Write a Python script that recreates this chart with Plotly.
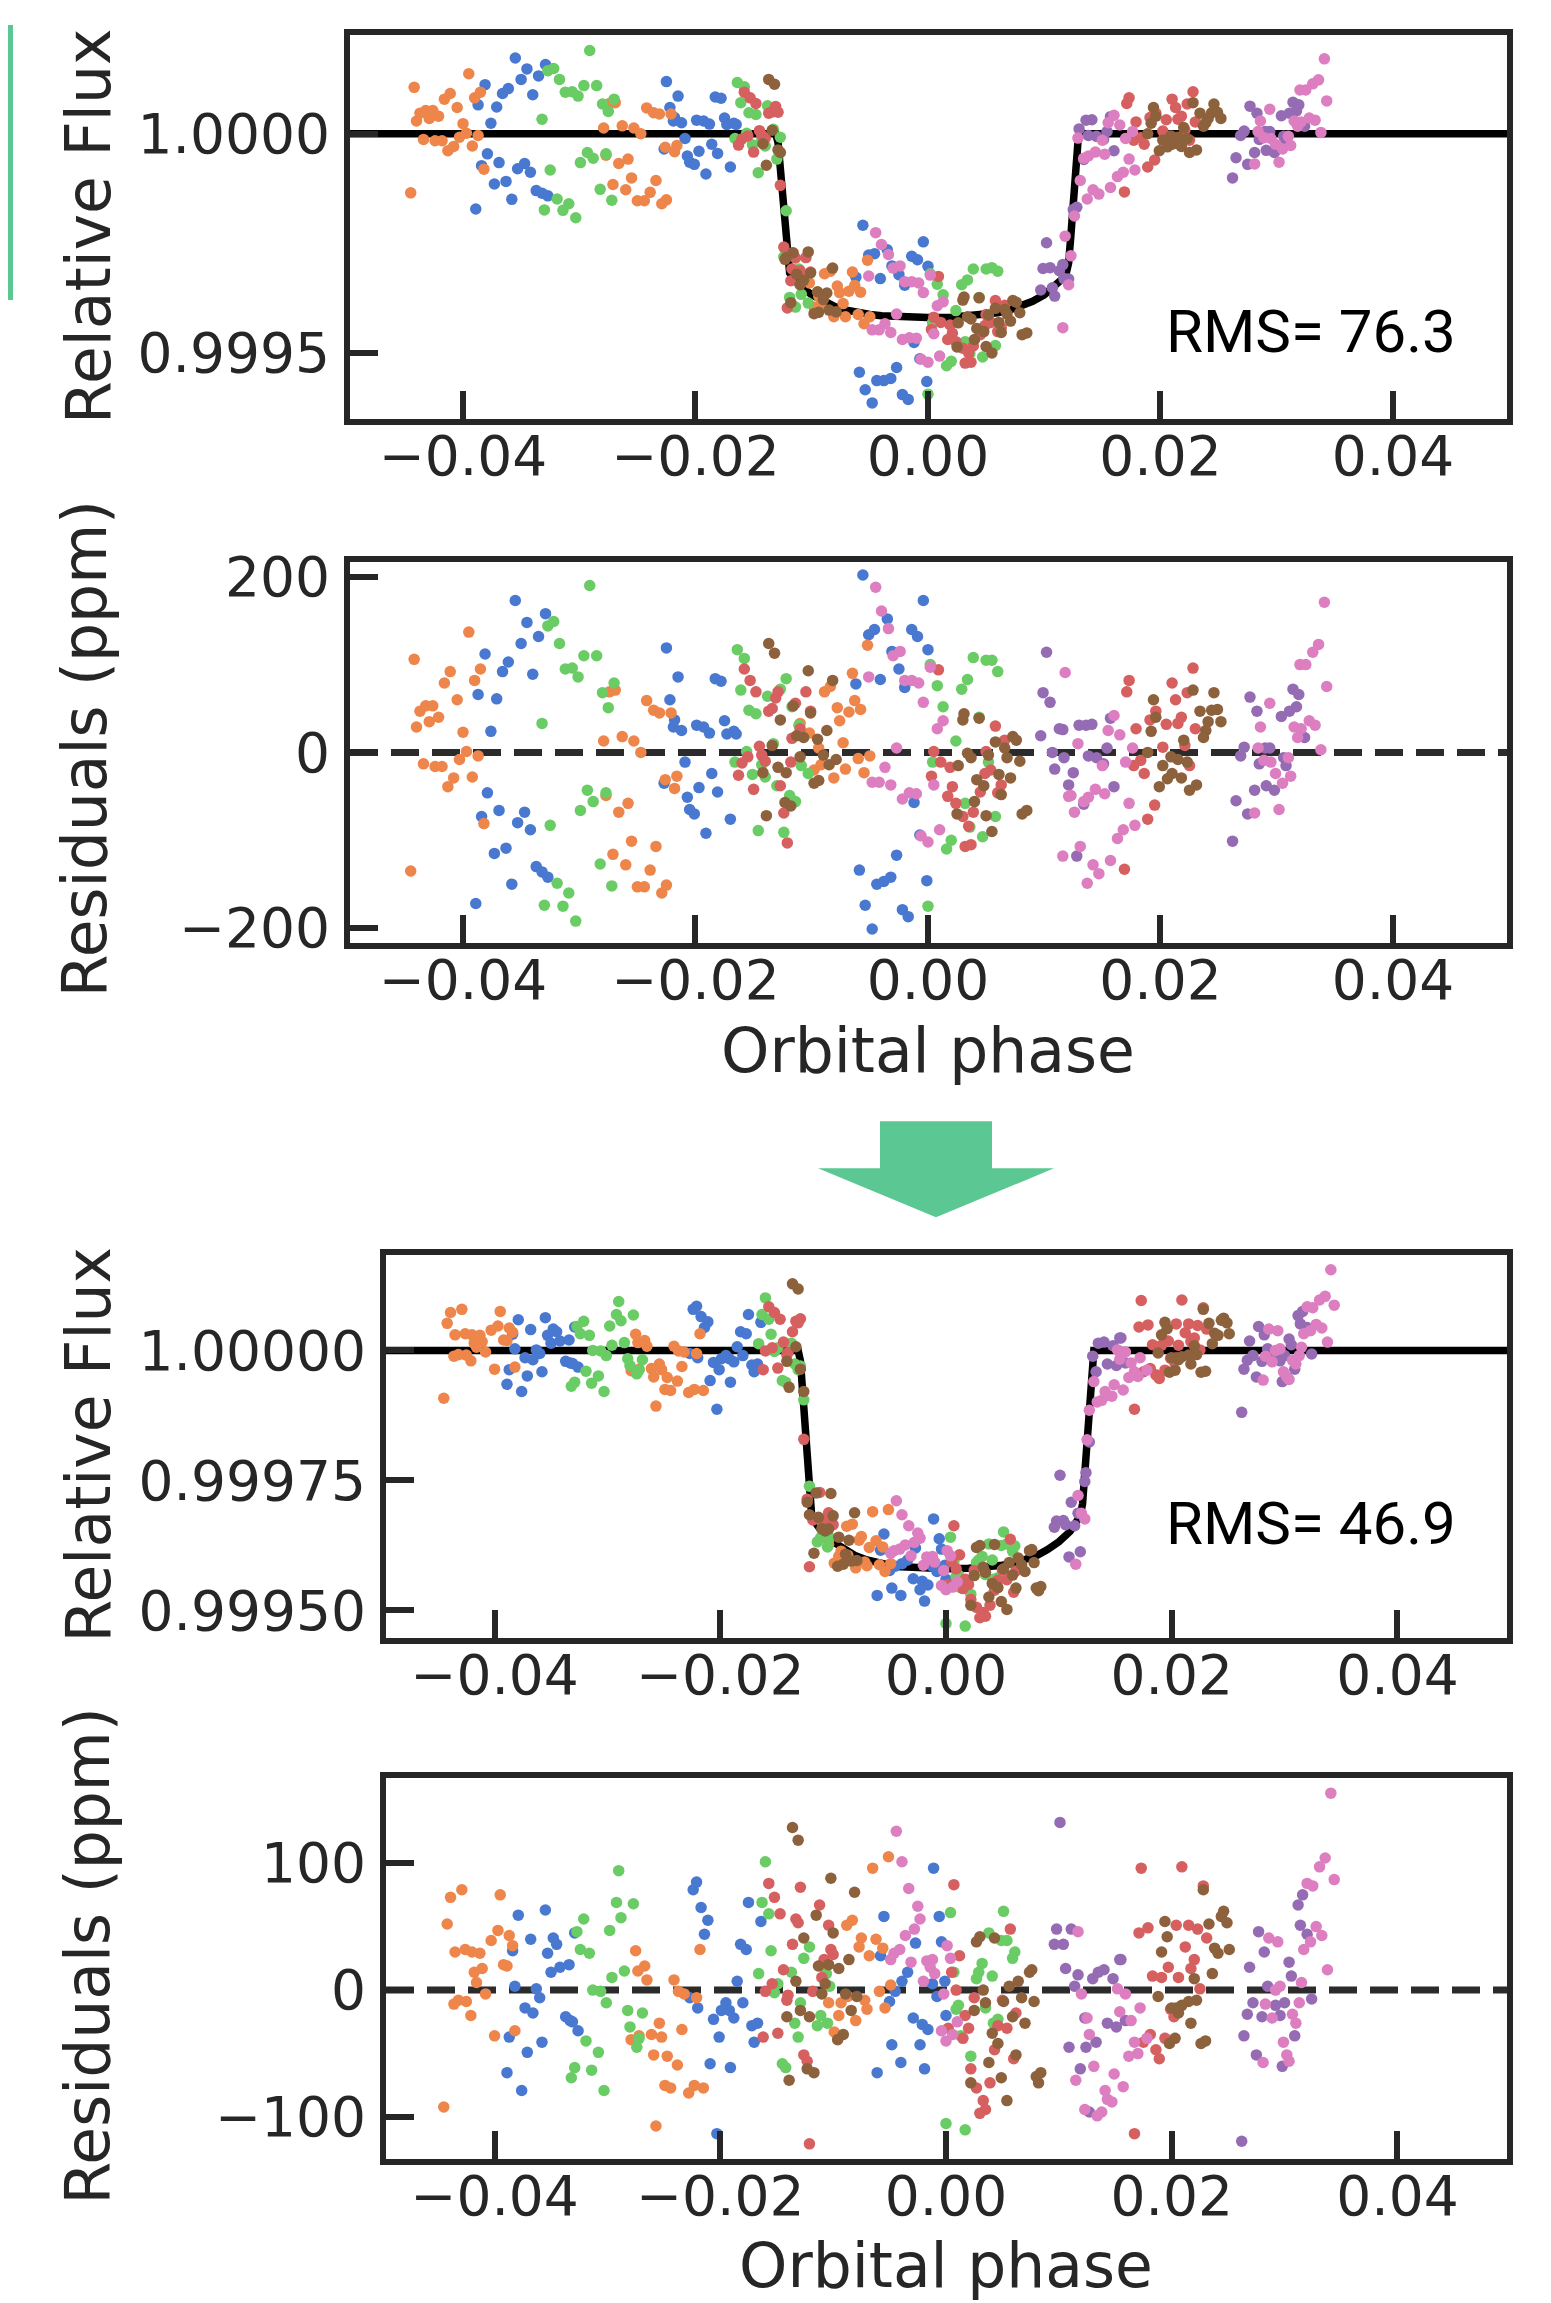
import plotly.graph_objects as go

# Measured placement of the figure in the photographed page:
#   picture_x = 8 + fig_x ;  picture_y = 25 + 0.985 * fig_y
W, H = 1535, 2315
OFF_X, OFF_Y, SCALE_Y = 8, 25, 0.985
INK = '#262626'
MINT = '#5BC894'
COLORS = {'blue': '#4878d0', 'orange': '#ee854a', 'green': '#6acc64', 'red': '#d65f5f',
          'purple': '#956cb4', 'brown': '#8c613c', 'pink': '#dc7ec0'}

# ---------------- axis ticks / labels ----------------
x_ticks = [-0.04, -0.02, 0.0, 0.02, 0.04]
x_ticktext = ['\u22120.04', '\u22120.02', '0.00', '0.02', '0.04']
flux_top_ticks = [0.9995, 1.0]
flux_top_text = ['0.9995', '1.0000']
resid_top_ticks = [-200, 0, 200]
resid_top_text = ['\u2212200', '0', '200']
flux_bot_ticks = [0.9995, 0.99975, 1.0]
flux_bot_text = ['0.99950', '0.99975', '1.00000']
resid_bot_ticks = [-100, 0, 100]
resid_bot_text = ['\u2212100', '0', '100']
rms_labels = ['RMS= 76.3', 'RMS= 46.9']

# ---------------- transit model (flux offset, ppm) ----------------
model_phase = [-0.05, -0.0131, -0.0129, -0.0127, -0.0125, -0.0123, -0.0121, -0.0119, -0.0115, -0.0110,
               -0.0100, -0.0090, -0.0080, -0.0070, -0.0060, -0.0050, -0.0040, -0.0020, 0.0, 0.0020,
               0.0040, 0.0050, 0.0060, 0.0070, 0.0080, 0.0090, 0.0100, 0.0110, 0.0115, 0.0119,
               0.0121, 0.0123, 0.0125, 0.0127, 0.0129, 0.0131, 0.05]
model_ppm = [0, 0, -20, -80, -150, -230, -295, -318, -333, -348,
             -368, -383, -395, -403, -409, -413, -416, -419, -420, -419,
             -416, -413, -409, -403, -395, -383, -368, -348, -333, -318,
             -295, -230, -150, -80, -20, 0, 0]

# ================= BEFORE (top pair) =================
blue_before_phase = [-0.0389, -0.0381, -0.0387, -0.0376, -0.0371, -0.0379, -0.0384, -0.0369, -0.0373, -0.0363, -0.0358, -0.0366, -0.0361, -0.0355, -0.0350, -0.0345, -0.0340, -0.0335, -0.0329, -0.0353, -0.0347, -0.0342, -0.0337, -0.0332, -0.0327,
                     -0.0225, -0.0215, -0.0222, -0.0218, -0.0212, -0.0219, -0.0199, -0.0193, -0.0188, -0.0183, -0.0178, -0.0175, -0.0173, -0.0167, -0.0165, -0.0209, -0.0227, -0.0207, -0.0197, -0.0186, -0.0181, -0.0205, -0.0201, -0.0191, -0.0170,
                     -0.0056, -0.0051, -0.0046, -0.0035, -0.0031, -0.0025, -0.0020, -0.0014, -0.0009, -0.0004, 0.0000, -0.0062, -0.0041, -0.0012, -0.0007, -0.0027, -0.0059, -0.0044, -0.0038, -0.0032, -0.0054, -0.0022, -0.0017, -0.0048, -0.0001]
blue_before_resid = [-172, 112, 66, 24, 61, -46, -73, -66, -115, -109, -150, 92, 103, 173, 124, 148, 89, 132, 158, -80, -68, -88, -130, -136, -142,
                     119, 86, 60, 37, 25, 29, 31, 29, 22, 84, 81, 36, 21, 24, 21, -11, -35, -51, -40, -24, -45, -65, -70, -92, -76,
                     202, 134, 140, 152, 115, 95, 74, 140, 132, 173, 117, 78, 83, -57, -94, -117, -134, -150, -147, -142, -174, -179, -187, -201, -146]
blue_before_flux = [-172, 112, 66, 24, 61, -46, -73, -66, -115, -109, -150, 92, 103, 173, 124, 148, 89, 132, 158, -80, -68, -88, -130, -136, -142,
                    119, 86, 60, 37, 25, 29, 31, 29, 22, 84, 81, 36, 21, 24, 21, -11, -35, -51, -40, -24, -45, -65, -70, -92, -76,
                    -209, -277, -274, -265, -302, -322, -346, -280, -288, -247, -303, -328, -331, -477, -514, -534, -545, -564, -564, -559, -585, -596, -607, -615, -566]

orange_before_phase = [-0.0442, -0.0445, -0.0440, -0.0437, -0.0432, -0.0426, -0.0429, -0.0421, -0.0434, -0.0424, -0.0418, -0.0413, -0.0408, -0.0416, -0.0411, -0.0405, -0.0400, -0.0397, -0.0403, -0.0395, -0.0390, -0.0385, -0.0387, -0.0392, -0.0382,
                       -0.0279, -0.0274, -0.0269, -0.0263, -0.0253, -0.0247, -0.0277, -0.0258, -0.0266, -0.0271, -0.0255, -0.0260, -0.0234, -0.0239, -0.0250, -0.0244, -0.0229, -0.0225, -0.0242, -0.0236, -0.0231, -0.0221, -0.0226, -0.0216, -0.0218,
                       -0.0102, -0.0098, -0.0089, -0.0084, -0.0078, -0.0076, -0.0068, -0.0065, -0.0063, -0.0058, -0.0073, -0.0071, -0.0081, -0.0060, -0.0055, -0.0050, -0.0052, -0.0110, -0.0094, -0.0092]
orange_before_resid = [106, -135, 29, 47, 53, 53, 35, 40, -13, -16, -16, -39, -29, 79, 92, 60, 23, 1, -8, 137, 82, 95, -4, -28, -81,
                       13, 69, 71, 18, 13, 0, -49, -58, -68, -116, -101, -128, -107, -134, -153, -153, -160, -151, 59, 48, 45, 45, -31, -27, -41,
                       22, -20, 69, 75, 51, 36, 46, 90, 59, 49, 11, -19, -29, -7, -23, -4, 122, 33, 5, -14]
orange_before_flux = [106, -135, 29, 47, 53, 53, 35, 40, -13, -16, -16, -39, -29, 79, 92, 60, 23, 1, -8, 137, 82, 95, -4, -28, -81,
                      13, 69, 71, 18, 13, 0, -49, -58, -68, -116, -101, -128, -107, -134, -153, -153, -160, -151, 59, 48, 45, 45, -31, -27, -41,
                      -341, -396, -320, -314, -348, -363, -360, -316, -347, -362, -388, -418, -418, -413, -434, -418, -289, -319, -371, -390]

green_before_phase = [-0.0291, -0.0327, -0.0322, -0.0317, -0.0296, -0.0285, -0.0312, -0.0306, -0.0301, -0.0280, -0.0270, -0.0275, -0.0332, -0.0293, -0.0288, -0.0277, -0.0299, -0.0325, -0.0282, -0.0272, -0.0319, -0.0309, -0.0330, -0.0314, -0.0303,
                      -0.0164, -0.0158, -0.0161, -0.0154, -0.0148, -0.0138, -0.0122, -0.0127, -0.0117, -0.0133, -0.0156, -0.0166, -0.0151, -0.0140, -0.0143, -0.0130, -0.0119, -0.0114, -0.0109, -0.0103, -0.0146, -0.0124, -0.0111,
                      0.0002, 0.0000, 0.0004, 0.0039, 0.0050, 0.0055, 0.0060, 0.0034, 0.0029, 0.0008, 0.0013, 0.0024, 0.0044, 0.0052, 0.0032, 0.0058, 0.0020, 0.0016, 0.0047, 0.0036]
green_before_resid = [190, 144, 149, 124, 110, 110, 95, 96, 86, 68, 79, 51, 33, -43, -56, -46, -66, -83, -127, -152, -149, -160, -174, -175, -192,
                      117, 107, 71, 48, 44, 64, 84, 72, 52, 10, 1, -11, -25, -28, -14, -38, -49, -56, -15, -24, -89, -91, 31,
                      100, -175, -11, 108, 105, 105, 92, 83, 72, 76, 52, 13, 40, -11, -58, -73, -100, -110, -96, -85]
green_before_flux = [190, 144, 149, 124, 110, 110, 95, 96, 86, 68, 79, 51, 33, -43, -56, -46, -66, -83, -127, -152, -149, -160, -174, -175, -192,
                     117, 107, 71, 48, 44, 64, -176, -8, -273, 10, 1, -11, -25, -28, -14, -58, -374, -396, -367, -387, -89, -281, -309,
                     -320, -595, -431, -309, -309, -306, -314, -334, -345, -344, -368, -404, -374, -422, -475, -484, -520, -530, -510, -502]

red_before_phase = [-0.0158, -0.0153, -0.0148, -0.0137, -0.0134, -0.0131, -0.0129, -0.0105, -0.0101, -0.0145, -0.0155, -0.0160, -0.0143, -0.0140, -0.0163, -0.0150, -0.0127, -0.0118, -0.0124, -0.0121, -0.0114, -0.0117, -0.0110,
                    0.0009, 0.0058, 0.0066, 0.0005, 0.0011, 0.0019, 0.0050, 0.0054, 0.0003, 0.0021, 0.0017, 0.0024, 0.0045, 0.0063, 0.0060, 0.0039, 0.0030, 0.0035, 0.0032, 0.0037, 0.0049,
                    0.0228, 0.0173, 0.0171, 0.0210, 0.0213, 0.0223, 0.0196, 0.0191, 0.0179, 0.0205, 0.0218, 0.0215, 0.0230, 0.0202, 0.0183, 0.0177, 0.0186, 0.0225, 0.0195, 0.0189, 0.0169, 0.0221]
red_before_resid = [95, 82, 69, 47, 50, 62, 69, 69, 47, 7, -5, -12, -3, -10, -26, -42, -38, -11, -69, -103, 56, 16, 27,
                    94, 30, 14, 1, -11, -17, 1, -20, -27, -39, -50, -58, -45, -37, -46, -68, -73, -84, -107, -105, -24,
                    96, 82, 69, 79, 60, 68, 47, 37, 27, 32, 40, 33, 27, 6, -9, -15, -24, -15, -60, -76, -133, 8]
red_before_flux = [95, 82, 69, 47, 50, 62, 49, -283, -316, 7, -5, -12, -3, -10, -26, -42, -118, -336, -259, -398, -284, -309, -313,
                   -326, -381, -392, -419, -431, -437, -413, -431, -447, -456, -470, -475, -459, -443, -452, -485, -490, -501, -524, -522, -438,
                   96, 82, 69, 79, 60, 68, 47, 37, 27, 32, 40, 33, 27, 6, -9, -15, -24, -15, -60, -76, -133, 8]

purple_before_phase = [0.0102, 0.0099, 0.0105, 0.0097, 0.0113, 0.0116, 0.0107, 0.0117, 0.0109, 0.0125, 0.0121, 0.0134, 0.0128, 0.0130, 0.0136, 0.0141, 0.0157, 0.0154, 0.0138, 0.0145, 0.0151, 0.0160,
                       0.0277, 0.0283, 0.0304, 0.0311, 0.0317, 0.0314, 0.0319, 0.0324, 0.0272, 0.0269, 0.0290, 0.0294, 0.0285, 0.0308, 0.0306, 0.0291, 0.0298, 0.0281, 0.0265, 0.0275, 0.0262]
purple_before_resid = [114, 68, 57, 19, 27, 26, 0, -6, -19, -23, -37, -59, -118, 31, 31, 32, 39, 5, -4, -6, -13, -39,
                       63, 47, 41, 47, 52, 72, 66, 17, 6, -4, 5, 5, -13, -15, -6, -38, -43, -43, -55, -70, -101]
purple_before_flux = [-249, -308, -306, -357, -313, -299, -352, -331, -371, -173, -332, -59, -168, 11, 31, 32, 39, 5, -4, -6, -13, -39,
                      63, 47, 41, 47, 52, 72, 66, 17, 6, -4, 5, 5, -13, -15, -6, -38, -43, -43, -55, -70, -101]

brown_before_phase = [-0.0137, -0.0132, -0.0103, -0.0082, -0.0127, -0.0116, -0.0101, -0.0087, -0.0095, -0.0107, -0.0134, -0.0113, -0.0110, -0.0090, -0.0085, -0.0079, -0.0129, -0.0122, -0.0142, -0.0094, -0.0098, -0.0123, -0.0118, -0.0139,
                      0.0031, 0.0030, 0.0044, 0.0058, 0.0073, 0.0076, 0.0034, 0.0037, 0.0052, 0.0066, 0.0068, 0.0079, 0.0026, 0.0042, 0.0048, 0.0061, 0.0071, 0.0063, 0.0040, 0.0025, 0.0050, 0.0055, 0.0081, 0.0085,
                      0.0194, 0.0196, 0.0192, 0.0228, 0.0246, 0.0234, 0.0244, 0.0249, 0.0252, 0.0241, 0.0239, 0.0237, 0.0220, 0.0189, 0.0209, 0.0215, 0.0223, 0.0202, 0.0210, 0.0206, 0.0218, 0.0199, 0.0231, 0.0225]
brown_before_resid = [124, 113, 93, 82, 37, 53, 45, 25, 15, 17, 8, 19, -5, -3, -14, -8, -17, -23, -23, -32, -35, -57, -61, -72,
                      44, 37, 39, 12, 18, 14, -1, -6, -3, 5, -6, -10, -15, -31, -38, -25, -29, -48, -56, -70, -72, -90, -70, -66,
                      60, 40, 24, 71, 68, 47, 48, 49, 35, 35, 25, 17, 14, 0, -5, -8, -11, -15, -24, -30, -29, -39, -37, -43]
brown_before_flux = [124, 113, -270, -307, -43, -272, -318, -364, -361, -335, 8, -321, -345, -379, -403, -407, -37, -283, -23, -408, -411, -287, -386, -72,
                     -373, -380, -375, -399, -381, -385, -418, -423, -414, -401, -412, -409, -432, -445, -452, -431, -428, -454, -470, -487, -486, -501, -459, -455,
                     60, 40, 24, 71, 68, 47, 48, 49, 35, 35, 25, 17, 14, 0, -5, -8, -11, -15, -24, -30, -29, -39, -37, -43]

pink_before_phase = [-0.0045, -0.0040, -0.0034, -0.0030, -0.0024, -0.0051, -0.0020, -0.0014, -0.0008, -0.0004, 0.0002, -0.0027, -0.0037, -0.0048, -0.0042, -0.0032, -0.0022, -0.0016, -0.0010, -0.0006, 0.0000, 0.0013, 0.0008, 0.0005, 0.0010,
                     0.0118, 0.0129, 0.0160, 0.0155, 0.0165, 0.0176, 0.0170, 0.0150, 0.0144, 0.0138, 0.0134, 0.0152, 0.0123, 0.0121, 0.0126, 0.0173, 0.0168, 0.0163, 0.0178, 0.0131, 0.0116, 0.0157, 0.0142, 0.0147, 0.0137,
                     0.0341, 0.0336, 0.0331, 0.0320, 0.0325, 0.0343, 0.0294, 0.0286, 0.0315, 0.0321, 0.0328, 0.0333, 0.0318, 0.0284, 0.0338, 0.0310, 0.0289, 0.0295, 0.0299, 0.0305, 0.0312, 0.0281, 0.0302]
pink_before_resid = [188, 161, 141, 110, 115, 86, 82, 82, 79, 57, 97, 5, -17, -34, -34, -37, -53, -46, -47, -95, -102, 36, 27, -37, -88,
                     91, 10, 42, 25, 20, 5, -11, -15, -42, -51, -56, -47, -49, -50, -68, -58, -88, -98, -83, -107, -118, -123, -128, -138, -149,
                     171, 123, 114, 100, 100, 75, 56, 29, 29, 27, 36, 31, 17, 5, 3, -6, -9, -11, -24, -35, -27, -69, -65]
pink_before_flux = [-226, -253, -276, -307, -302, -325, -338, -338, -341, -363, -323, -412, -434, -448, -448, -454, -470, -466, -467, -515, -522, -384, -393, -457, -508,
                    -234, -10, 42, 25, 20, 5, -11, -15, -42, -51, -56, -47, -279, -345, -188, -58, -88, -98, -83, -107, -443, -123, -128, -138, -149,
                    171, 123, 114, 100, 100, 75, 56, 29, 29, 27, 36, 31, 17, 5, 3, -6, -9, -11, -24, -35, -27, -69, -65]

# ================= AFTER (bottom pair) =================
blue_after_phase = [-0.0379, -0.0384, -0.0382, -0.0368, -0.0355, -0.0348, -0.0345, -0.0353, -0.0350, -0.0342, -0.0334, -0.0329, -0.0363, -0.0360, -0.0373, -0.0366, -0.0387, -0.0371, -0.0358, -0.0389, -0.0376, -0.0337, -0.0333, -0.0331, -0.0326,
                    -0.0221, -0.0224, -0.0217, -0.0211, -0.0214, -0.0227, -0.0220, -0.0206, -0.0199, -0.0195, -0.0192, -0.0188, -0.0180, -0.0185, -0.0201, -0.0209, -0.0191, -0.0203, -0.0182, -0.0177, -0.0175, -0.0164, -0.0172, -0.0167, -0.0170,
                    -0.0011, -0.0006, -0.0055, -0.0027, -0.0004, -0.0058, -0.0034, -0.0039, -0.0045, -0.0012, -0.0001, -0.0008, -0.0050, -0.0029, -0.0021, -0.0016, 0.0000, -0.0048, -0.0023, -0.0040, -0.0061, -0.0019]
blue_after_resid = [59, 31, 3, 40, 63, 41, 36, 29, 14, 18, 20, 45, 1, -6, -14, -18, -37, -49, -41, -65, -79, -21, -24, -25, -32,
                    85, 79, 65, 55, 44, -6, -14, -23, -16, -10, -16, -22, -10, 7, -37, -58, -61, -113, 36, 32, 69, 54, -28, -26, -41,
                    96, 58, 58, 37, 38, 27, 14, 7, -1, 5, 7, -5, -9, -22, -27, -31, -20, -43, -43, -57, -65, -62]
blue_after_flux = [59, 31, 3, 40, 63, 41, 36, 29, 14, 18, 20, 45, 1, -6, -14, -18, -37, -49, -41, -65, -79, -21, -24, -25, -32,
                   85, 79, 65, 55, 44, -6, -14, -23, -16, -10, -16, -22, -10, 7, -37, -58, -61, -113, 36, 32, 69, 54, -28, -26, -41,
                   -324, -362, -353, -380, -382, -384, -403, -410, -415, -415, -413, -425, -423, -439, -444, -451, -440, -457, -460, -471, -471, -482]

orange_after_phase = [-0.0439, -0.0429, -0.0442, -0.0395, -0.0397, -0.0403, -0.0387, -0.0384, -0.0435, -0.0426, -0.0420, -0.0413, -0.0418, -0.0411, -0.0416, -0.0392, -0.0389, -0.0408, -0.0436, -0.0432, -0.0425, -0.0421, -0.0400, -0.0382, -0.0445,
                      -0.0275, -0.0273, -0.0267, -0.0265, -0.0241, -0.0237, -0.0232, -0.0221, -0.0218, -0.0254, -0.0261, -0.0252, -0.0234, -0.0279, -0.0272, -0.0259, -0.0247, -0.0238, -0.0249, -0.0244, -0.0228, -0.0223, -0.0215, -0.0257,
                      -0.0065, -0.0051, -0.0083, -0.0088, -0.0075, -0.0077, -0.0068, -0.0062, -0.0056, -0.0059, -0.0049, -0.0104, -0.0095, -0.0093, -0.0087, -0.0072, -0.0070, -0.0080, -0.0054, -0.0099, -0.0110, -0.0107]
orange_after_resid = [73, 79, 52, 75, 47, 39, 43, 35, 30, 32, 30, 29, 14, 17, 6, 20, 19, -3, -11, -8, -9, -20, -36, -32, -92,
                      31, 15, 19, 8, 8, -1, -3, -6, 32, -26, -35, -37, -31, -39, -36, -51, -52, -59, -75, -77, -81, -75, -77, -107,
                      96, 105, 55, 51, 41, 34, 27, 40, 33, -1, 4, -10, -20, -10, -5, -8, -15, -24, -14, -33, 20, 16]
orange_after_flux = [73, 79, 52, 75, 47, 39, 43, 35, 30, 32, 30, 29, 14, 17, 6, 20, 19, -3, -11, -8, -9, -20, -36, -32, -92,
                     31, 15, 19, 8, 8, -1, -3, -6, 32, -26, -35, -37, -31, -39, -36, -51, -52, -59, -75, -77, -81, -75, -77, -107,
                     -310, -306, -334, -338, -358, -365, -379, -366, -378, -412, -410, -373, -396, -386, -394, -407, -414, -418, -425, -409, -326, -336]

green_after_phase = [-0.0290, -0.0292, -0.0277, -0.0288, -0.0321, -0.0327, -0.0298, -0.0324, -0.0316, -0.0285, -0.0296, -0.0313, -0.0306, -0.0301, -0.0282, -0.0269, -0.0280, -0.0319, -0.0308, -0.0272, -0.0274, -0.0329, -0.0314, -0.0332, -0.0303,
                     -0.0160, -0.0163, -0.0157, -0.0155, -0.0166, -0.0126, -0.0121, -0.0137, -0.0149, -0.0152, -0.0129, -0.0134, -0.0131, -0.0111, -0.0114, -0.0105, -0.0145, -0.0142, -0.0103, -0.0106,
                     0.0004, 0.0051, 0.0038, 0.0049, 0.0054, 0.0061, 0.0059, 0.0032, 0.0029, 0.0041, 0.0027, 0.0007, 0.0011, 0.0009, 0.0035, 0.0046, 0.0042, 0.0013, 0.0022, 0.0000, 0.0017]
green_after_resid = [94, 69, 68, 57, 56, 46, 47, 32, 29, 15, 10, 0, -1, -10, -16, -18, -29, -40, -49, -38, -45, -61, -63, -69, -79,
                     101, 69, 60, 31, 13, 25, 34, 14, 5, -2, -10, -26, -37, -20, -28, -26, -58, -61, 3, 13,
                     61, 62, 45, 39, 39, 30, 25, 21, 14, 11, 9, 14, -12, -15, -14, -23, -26, -36, -52, -105, -110]
green_after_flux = [94, 69, 68, 57, 56, 46, 47, 32, 29, 15, 10, 0, -1, -10, -16, -18, -29, -40, -49, -38, -45, -61, -63, -69, -79,
                    101, 69, 60, 31, 13, -95, -261, 14, 5, -2, -30, -26, -37, -360, -368, -378, -58, -61, -360, -339,
                    -359, -349, -372, -375, -372, -376, -386, -396, -403, -403, -408, -406, -432, -435, -431, -437, -440, -456, -469, -525, -530]

red_after_phase = [-0.0157, -0.0152, -0.0147, -0.0129, -0.0133, -0.0131, -0.0112, -0.0104, -0.0136, -0.0102, -0.0100, -0.0108, -0.0144, -0.0154, -0.0160, -0.0140, -0.0141, -0.0118, -0.0110, -0.0149, -0.0162, -0.0126, -0.0123, -0.0121,
                   0.0007, 0.0057, 0.0012, 0.0005, 0.0009, 0.0025, 0.0050, 0.0062, 0.0017, 0.0020, 0.0046, 0.0054, 0.0015, 0.0043, 0.0060, 0.0022, 0.0027, 0.0039, 0.0033, 0.0035, 0.0030, 0.0002,
                   0.0173, 0.0209, 0.0228, 0.0171, 0.0179, 0.0204, 0.0215, 0.0223, 0.0231, 0.0212, 0.0220, 0.0217, 0.0197, 0.0183, 0.0191, 0.0206, 0.0225, 0.0199, 0.0202, 0.0194, 0.0181, 0.0175, 0.0186, 0.0189, 0.0167]
red_after_resid = [84, 73, 60, 81, 56, 53, 67, 51, 36, 32, 28, 24, 16, 5, -1, -4, -8, -1, 10, -34, -37, -51, -56, -121,
                   83, 48, 27, 14, 0, -6, -8, -18, -20, -30, -28, -30, -38, -47, -54, -62, -77, -73, -87, -94, -97, -30,
                   96, 97, 82, 45, 49, 51, 51, 48, 41, 34, 24, 17, 18, 11, 10, 10, 1, -15, -21, -38, -35, -41, -47, -54, -113]
red_after_flux = [84, 73, 60, 61, 56, 53, -273, -312, 36, -331, -335, -328, 16, 5, -1, -4, -8, -326, -330, -34, -37, -171, -286, -416,
                  -337, -363, -393, -406, -420, -423, -422, -424, -440, -450, -442, -441, -458, -461, -465, -479, -494, -490, -504, -511, -514, -450,
                  96, 97, 82, 45, 49, 51, 51, 48, 41, 34, 24, 17, 18, 11, 10, 10, 1, -15, -21, -38, -35, -41, -47, -54, -113]

purple_after_phase = [0.0101, 0.0098, 0.0111, 0.0096, 0.0104, 0.0106, 0.0117, 0.0114, 0.0130, 0.0135, 0.0140, 0.0148, 0.0154, 0.0155, 0.0123, 0.0143, 0.0151, 0.0159, 0.0109, 0.0124, 0.0133, 0.0119, 0.0127,
                      0.0277, 0.0282, 0.0269, 0.0304, 0.0306, 0.0312, 0.0316, 0.0314, 0.0320, 0.0324, 0.0285, 0.0272, 0.0267, 0.0280, 0.0292, 0.0300, 0.0296, 0.0264, 0.0275, 0.0298, 0.0309, 0.0262]
purple_after_resid = [132, 48, 48, 36, 36, 17, 12, 3, 9, 14, 16, 9, 24, 24, -22, -26, -29, -24, -45, -45, -41, -62, -96,
                      46, 30, 18, 22, 11, 67, 75, 51, 44, -7, 3, -10, -19, -21, -12, -10, -20, -36, -51, -60, -36, -119]
purple_after_flux = [-240, -328, -292, -340, -327, -335, -313, -337, -11, 14, 16, 9, 24, 24, -252, -26, -29, -24, -397, -235, -41, -387, -176,
                     46, 30, 18, 22, 11, 67, 75, 51, 44, -7, 3, -10, -19, -21, -12, -10, -20, -36, -51, -60, -36, -119]

brown_after_phase = [-0.0136, -0.0131, -0.0102, -0.0081, -0.0115, -0.0100, -0.0126, -0.0086, -0.0095, -0.0113, -0.0104, -0.0133, -0.0107, -0.0089, -0.0079, -0.0110, -0.0084, -0.0129, -0.0121, -0.0141, -0.0091, -0.0096, -0.0123, -0.0117, -0.0139,
                     0.0027, 0.0030, 0.0043, 0.0056, 0.0064, 0.0074, 0.0076, 0.0033, 0.0035, 0.0051, 0.0067, 0.0078, 0.0025, 0.0059, 0.0070, 0.0041, 0.0046, 0.0062, 0.0038, 0.0049, 0.0022, 0.0054, 0.0080, 0.0084, 0.0082,
                     0.0228, 0.0194, 0.0196, 0.0191, 0.0233, 0.0244, 0.0246, 0.0249, 0.0251, 0.0238, 0.0241, 0.0236, 0.0220, 0.0188, 0.0222, 0.0215, 0.0209, 0.0204, 0.0200, 0.0206, 0.0217, 0.0203, 0.0198, 0.0226, 0.0230]
brown_after_resid = [128, 118, 88, 77, 59, 45, 41, 24, 17, 19, 20, 7, 5, -3, -5, -3, -16, -16, -21, -21, -35, -39, -62, -65, -71,
                     38, 42, 41, 3, 7, 14, 16, 0, -10, -9, -6, -9, -16, -21, -26, -34, -42, -51, -57, -69, -73, -87, -68, -65, -73,
                     79, 54, 42, 30, 52, 58, 62, 53, 32, 33, 29, 13, 9, -5, -8, -9, -12, -14, -14, -18, -26, -38, -42, -42, -40]
brown_after_flux = [128, 118, -275, -312, -274, -318, -79, -365, -359, -321, -343, 7, -347, -392, -404, -343, -405, -36, -316, -21, -411, -415, -292, -390, -71,
                    -379, -375, -373, -408, -399, -385, -383, -417, -427, -420, -412, -408, -433, -432, -425, -448, -456, -457, -474, -483, -490, -498, -457, -454, -462,
                    79, 54, 42, 30, 52, 58, 62, 53, 32, 33, 29, 13, 9, -5, -8, -9, -12, -14, -14, -18, -26, -38, -42, -42, -40]

pink_after_phase = [-0.0044, -0.0039, -0.0033, -0.0025, -0.0023, -0.0028, -0.0036, -0.0041, -0.0046, -0.0049, -0.0031, -0.0017, -0.0012, -0.0014, -0.0010, -0.0020, -0.0002, -0.0004, 0.0000, 0.0001, 0.0004, 0.0010, 0.0006,
                    0.0117, 0.0120, 0.0159, 0.0152, 0.0172, 0.0154, 0.0164, 0.0125, 0.0127, 0.0167, 0.0178, 0.0170, 0.0162, 0.0131, 0.0115, 0.0149, 0.0157, 0.0141, 0.0143, 0.0147, 0.0123, 0.0138, 0.0134,
                    0.0341, 0.0336, 0.0331, 0.0344, 0.0320, 0.0325, 0.0328, 0.0333, 0.0323, 0.0317, 0.0286, 0.0294, 0.0338, 0.0315, 0.0296, 0.0292, 0.0283, 0.0313, 0.0289, 0.0307, 0.0310, 0.0299, 0.0302, 0.0304, 0.0281]
pink_after_resid = [125, 101, 80, 66, 56, 48, 43, 32, 29, 24, 22, 23, 24, 18, 13, 7, -3, -32, -40, 35, 25, -25, -35,
                    46, -3, -3, 1, -14, -17, -24, -22, -35, -41, -38, -50, -52, -60, -71, -66, -76, -79, -86, -88, -94, -96, -99,
                    155, 104, 97, 87, 84, 82, 50, 43, 38, 32, 41, 38, 16, 6, 3, 0, -11, -10, -22, -19, -26, -41, -51, -56, -57]
pink_after_flux = [-289, -316, -337, -351, -361, -369, -374, -382, -385, -390, -395, -397, -396, -402, -407, -413, -423, -452, -460, -385, -395, -445, -455,
                   -279, -313, -3, 1, -14, -17, -24, -172, -115, -41, -38, -50, -52, -60, -411, -66, -76, -79, -86, -88, -324, -96, -99,
                   155, 104, 97, 87, 84, 82, 50, 43, 38, 32, 41, 38, 16, 6, 3, 0, -11, -10, -22, -19, -26, -41, -51, -56, -57]

before = {
    'blue': (blue_before_phase, blue_before_flux, blue_before_resid),
    'orange': (orange_before_phase, orange_before_flux, orange_before_resid),
    'green': (green_before_phase, green_before_flux, green_before_resid),
    'red': (red_before_phase, red_before_flux, red_before_resid),
    'purple': (purple_before_phase, purple_before_flux, purple_before_resid),
    'brown': (brown_before_phase, brown_before_flux, brown_before_resid),
    'pink': (pink_before_phase, pink_before_flux, pink_before_resid),
}
after = {
    'blue': (blue_after_phase, blue_after_flux, blue_after_resid),
    'orange': (orange_after_phase, orange_after_flux, orange_after_resid),
    'green': (green_after_phase, green_after_flux, green_after_resid),
    'red': (red_after_phase, red_after_flux, red_after_resid),
    'purple': (purple_after_phase, purple_after_flux, purple_after_resid),
    'brown': (brown_after_phase, brown_after_flux, brown_after_resid),
    'pink': (pink_after_phase, pink_after_flux, pink_after_resid),
}
for grp in (before, after):
    for k, (p, f, r) in grp.items():
        assert len(p) == len(f) == len(r), (k, len(p), len(f), len(r))


def to_flux(ppm):
    return [1.0 + v * 1e-6 for v in ppm]


def PX(x):  # target picture pixel -> paper x
    return (x - OFF_X) / W


def PY(y):  # target picture pixel -> paper y
    return 1 - ((y - OFF_Y) / SCALE_Y) / H


fig = go.Figure()

# model curves (drawn under the points)
for xa, ya in (('x', 'y'), ('x3', 'y3')):
    fig.add_trace(go.Scatter(x=model_phase, y=to_flux(model_ppm), mode='lines', xaxis=xa, yaxis=ya,
                             line=dict(color='black', width=7.5), hoverinfo='skip', showlegend=False))

MS = 11.5
for grp, (xf, yf, xr, yr) in ((before, ('x', 'y', 'x2', 'y2')), (after, ('x3', 'y3', 'x4', 'y4'))):
    for name, (p, f, r) in grp.items():
        fig.add_trace(go.Scatter(x=p, y=to_flux(f), mode='markers', xaxis=xf, yaxis=yf,
                                 marker=dict(color=COLORS[name], size=MS, line=dict(width=0)),
                                 showlegend=False, cliponaxis=True))
        fig.add_trace(go.Scatter(x=p, y=r, mode='markers', xaxis=xr, yaxis=yr,
                                 marker=dict(color=COLORS[name], size=MS, line=dict(width=0)),
                                 showlegend=False, cliponaxis=True))

common = dict(showline=True, linewidth=6, linecolor=INK, mirror=True, ticks='inside', ticklen=28,
              tickwidth=6, tickcolor=INK, showgrid=False, zeroline=False,
              tickfont=dict(family='DejaVu Sans', size=55, color=INK))
xcommon = dict(tickvals=x_ticks, ticktext=x_ticktext, ticklabelstandoff=-16, **common)
ycommon = dict(ticklabelstandoff=3, **common)

top_x_dom = [PX(350), PX(1507)]
bot_x_dom = [PX(386), PX(1507)]
top_x_rng = [-0.04972, 0.04981]
bot_x_rng = [-0.04962, 0.04971]

fig.update_layout(
    width=W, height=H, margin=dict(l=0, r=0, t=0, b=0),
    paper_bgcolor='white', plot_bgcolor='white', showlegend=False,
    xaxis=dict(domain=top_x_dom, range=top_x_rng, anchor='y', **xcommon),
    yaxis=dict(domain=[PY(419), PY(35)], range=[0.999348, 1.0002255], anchor='x',
               tickvals=flux_top_ticks, ticktext=flux_top_text, **ycommon),
    xaxis2=dict(domain=top_x_dom, range=top_x_rng, anchor='y2', **xcommon),
    yaxis2=dict(domain=[PY(943), PY(562)], range=[-217.3, 216.6], anchor='x2',
                tickvals=resid_top_ticks, ticktext=resid_top_text, **ycommon),
    xaxis3=dict(domain=bot_x_dom, range=bot_x_rng, anchor='y3', **xcommon),
    yaxis3=dict(domain=[PY(1637), PY(1255)], range=[0.999448, 1.0001827], anchor='x3',
                tickvals=flux_bot_ticks, ticktext=flux_bot_text, **ycommon),
    xaxis4=dict(domain=bot_x_dom, range=bot_x_rng, anchor='y4', **xcommon),
    yaxis4=dict(domain=[PY(2158), PY(1777)], range=[-132.7, 167.3], anchor='x4',
                tickvals=resid_bot_ticks, ticktext=resid_bot_text, **ycommon),
)

shapes = []
for xr, yr in (('x2', 'y2'), ('x4', 'y4')):
    shapes.append(dict(type='line', xref=xr + ' domain', yref=yr, x0=0, x1=1, y0=0, y1=0,
                       line=dict(color='#2b2b2b', width=7, dash='28px,13px'), layer='below'))
# mint side bar
shapes.append(dict(type='rect', xref='paper', yref='paper', x0=0, x1=PX(13), y0=PY(300), y1=1,
                   fillcolor=MINT, line=dict(width=0)))
# mint down arrow
arrow_pts = [(880, 1121), (992, 1121), (992, 1168), (1054, 1168), (936, 1217), (818, 1168), (880, 1168)]
path = 'M ' + ' L '.join(f'{PX(a):.5f},{PY(b):.5f}' for a, b in arrow_pts) + ' Z'
shapes.append(dict(type='path', xref='paper', yref='paper', path=path, fillcolor=MINT, line=dict(width=0)))
fig.update_layout(shapes=shapes)

title_font = dict(family='DejaVu Sans', size=61.5, color=INK)
ann = []
ann.append(dict(text='Relative Flux', x=PX(89), y=PY(227), textangle=-90, font=title_font))
ann.append(dict(text='Residuals (ppm)', x=PX(85), y=PY(749), textangle=-90, font=title_font))
ann.append(dict(text='Relative Flux', x=PX(89), y=PY(1445), textangle=-90, font=title_font))
ann.append(dict(text='Residuals (ppm)', x=PX(88), y=PY(1956), textangle=-90, font=title_font))
ann.append(dict(text='Orbital phase', x=PX(928), y=PY(1051), font=title_font))
ann.append(dict(text='Orbital phase', x=PX(946), y=PY(2265), font=title_font))
rms_font = dict(family='Roboto', size=60, color='black')
ann.append(dict(text=rms_labels[0], x=PX(1164), y=PY(331), xanchor='left', font=rms_font))
ann.append(dict(text=rms_labels[1], x=PX(1164), y=PY(1523), xanchor='left', font=rms_font))
for a in ann:
    a.update(xref='paper', yref='paper', showarrow=False)
    a.setdefault('xanchor', 'center')
    a.setdefault('yanchor', 'middle')
fig.update_layout(annotations=ann)

fig.write_html('out.html')
